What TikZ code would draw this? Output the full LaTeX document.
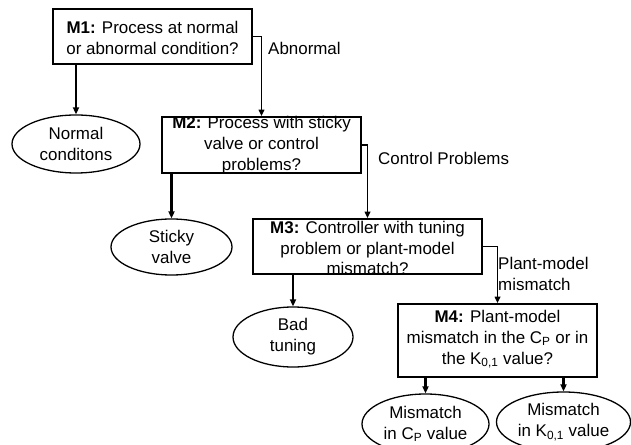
\documentclass[tikz,border=0pt]{standalone}
\usepackage{fontspec}
\setmainfont{Liberation Sans}
\usetikzlibrary{arrows.meta,shapes.geometric}
\begin{document}
\begin{tikzpicture}[x=1bp,y=-1bp,
  txt/.style={font=\fontsize{17}{21}\selectfont, align=center, inner sep=0pt},
  qbox/.style={draw, line width=1.6pt, inner sep=0pt},
  leaf/.style={draw, ellipse, line width=1.3pt, inner sep=0pt},
  down/.style={line width=2.5pt, -{Triangle[length=7pt,width=6pt]}},
  side/.style={line width=1.9pt, -{Triangle[length=6.5pt,width=5.5pt]}},
  lab/.style={font=\fontsize{17}{21}\selectfont, anchor=west, align=left, inner sep=0pt}]
\useasboundingbox (0,0) rectangle (631,445);

% decision boxes
\node[qbox, minimum width=199bp, minimum height=55bp] (m1) at (152.5,36.5) {};
\node[txt] (m1t) at (152.5,38) {\textbf{M1:} Process at normal\\or abnormal condition?};

\node[qbox, minimum width=199bp, minimum height=56bp] (m2) at (261.5,145) {};
\node[txt] (m2t) at (261.5,145) {\textbf{M2:} Process with sticky\\valve or control\\problems?};

\node[qbox, minimum width=229bp, minimum height=55bp] (m3) at (367.5,246.5) {};
\node[txt] (m3t) at (367.5,248) {\textbf{M3:} Controller with tuning\\problem or plant-model\\mismatch?};

\node[qbox, minimum width=199bp, minimum height=73bp] (m4) at (497.5,340.5) {};
\node[txt] (m4t) at (497.5,339) {\textbf{M4:} Plant-model\\mismatch in the C\textsubscript{P} or in\\the K\textsubscript{0,1} value?};

% outcomes
\node[leaf, minimum width=128bp, minimum height=58bp] (n1) at (76,144) {};
\node[txt] (n1t) at (76,144) {Normal\\conditons};

\node[leaf, minimum width=121bp, minimum height=56bp] (n2) at (171.5,247) {};
\node[txt] (n2t) at (171.5,247) {Sticky\\valve};

\node[leaf, minimum width=120bp, minimum height=60bp] (n3) at (293,337) {};
\node[txt] (n3t) at (293,337) {Bad\\tuning};

\node[leaf, minimum width=127bp, minimum height=60bp] (n4) at (425.5,424) {};
\node[txt] (n4t) at (425.5,424) {Mismatch\\in C\textsubscript{P} value};

\node[leaf, minimum width=134bp, minimum height=60bp] (n5) at (563.5,422) {};
\node[txt] (n5t) at (563.5,422) {Mismatch\\in K\textsubscript{0,1} value};

% branches to outcomes
\draw[down] (n1.north |- m1.south) -- (n1.north);
\draw[down] (n2.north |- m2.south) -- (n2.north);
\draw[down] (n3.north |- m3.south) -- (n3.north);
\draw[down] (n4.north |- m4.south) -- (n4.north);
\draw[down] (n5.north |- m4.south) -- (n5.north);

% branches to next question
\draw[side] (m1.east) -| (m2.north);
\draw[side] (m2.east) -| (m3.north);
\draw[side] (m3.east) -| (m4.north);

% branch labels
\node[lab] (l1) at (268,48) {Abnormal};
\node[lab] (l2) at (378,158) {Control Problems};
\node[lab] (l3) at (498,274) {Plant-model\\mismatch};
\end{tikzpicture}
\end{document}
